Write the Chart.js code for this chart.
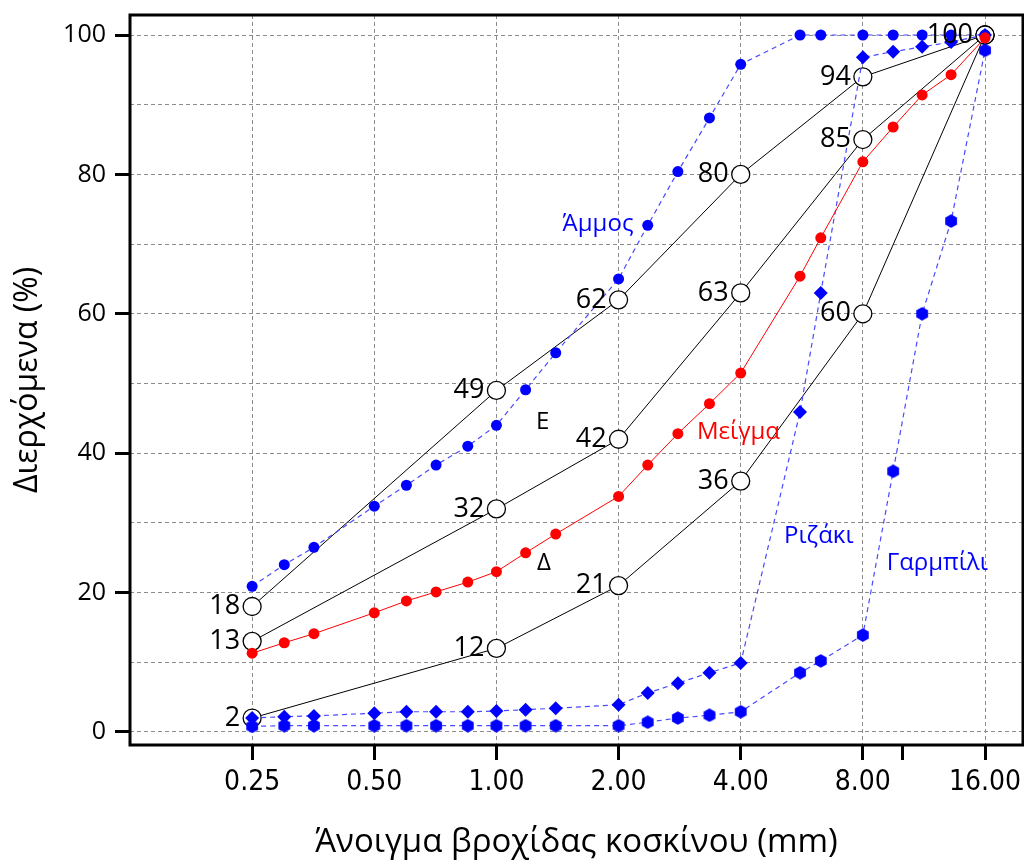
<!DOCTYPE html>
<html>
<head>
<meta charset="utf-8">
<script src="https://cdn.jsdelivr.net/npm/chart.js@4.4.1/dist/chart.umd.min.js"></script>
<style>
  body { margin: 0; background: #fff; }
  canvas { display: block; }
</style>
</head>
<body>
<canvas id="gradChart" width="1024" height="865"></canvas>
<script>
// sieve openings (mm)
const sieveSizes = [0.25, 0.3, 0.355, 0.5, 0.6, 0.71, 0.85, 1, 1.18, 1.4, 2, 2.36, 2.8, 3.35, 4, 5.6, 6.3, 8, 9.5, 11.2, 13.2, 16];

// passing percentages per material
const mixPassing   = [11.3, 12.8, 14.1, 17.1, 18.8, 20.1, 21.5, 23.0, 25.7, 28.4, 33.8, 38.3, 42.8, 47.1, 51.5, 65.4, 70.9, 81.8, 86.8, 91.4, 94.3, 99.6];
const sandPassing  = [20.9, 24.0, 26.5, 32.4, 35.4, 38.3, 41.0, 44.0, 49.1, 54.4, 65.0, 72.7, 80.4, 88.1, 95.8, 100, 100, 100, 100, 100, 100, 100];
const rizakiPassing = [2.0, 2.2, 2.3, 2.7, 2.9, 2.9, 2.9, 3.0, 3.2, 3.4, 3.9, 5.6, 7.0, 8.5, 9.9, 45.9, 63.0, 96.8, 97.6, 98.3, 99.0, 100];
const garmpiliPassing = [0.8, 0.9, 0.9, 0.9, 0.9, 0.9, 0.9, 0.9, 0.9, 0.9, 0.9, 1.4, 2.0, 2.4, 2.9, 8.5, 10.2, 13.9, 37.4, 60.0, 73.3, 97.8];

// grading envelope curves
const envelopeSizes = [0.25, 1, 2, 4, 8, 16];
const curveUpper  = [18, 49, 62, 80, 94, 100];
const curveMiddle = [13, 32, 42, 63, 85, 100];
const curveLower  = [2, 12, 21, 36, 60, 100];

// axes
const xTicks = [0.25, 0.5, 1, 2, 4, 8, 10, 16];
const xTickLabels = ['0.25', '0.50', '1.00', '2.00', '4.00', '8.00', '', '16.00'];
const yTicks = [0, 10, 20, 30, 40, 50, 60, 70, 80, 90, 100];

// text notes on the plot (data coords)
const notes = [
    { text: 'Άμμος', x: 1.78, y: 72.9, color: '#0000ff' },
    { text: 'Μείγμα', x: 3.95, y: 43.0, color: '#ff0000' },
    { text: 'Ριζάκι', x: 6.23, y: 28.1, color: '#0000ff' },
    { text: 'Γαρμπίλι', x: 12.2, y: 24.2, color: '#0000ff' },
    { text: 'Ε', x: 1.30, y: 44.5, color: '#000' },
    { text: 'Δ', x: 1.31, y: 24.2, color: '#000' }
];

const pts = (xs, ys) => xs.map((x, i) => ({ x, y: ys[i] }));

// hexagon marker
const hexMarker = (() => {
    const c = document.createElement('canvas');
    c.width = 14; c.height = 14;
    const g = c.getContext('2d');
    g.fillStyle = '#0000ff';
    g.beginPath();
    for (let i = 0; i < 6; i++) {
        const a = -Math.PI / 2 + i * Math.PI / 3;
        const px = 7 + 6.8 * Math.cos(a), py = 7 + 6.8 * Math.sin(a);
        i ? g.lineTo(px, py) : g.moveTo(px, py);
    }
    g.closePath();
    g.fill();
    return c;
})();

const blueLine = {
    borderColor: '#4a4aff',
    borderWidth: 1.2,
    borderDash: [5, 4],
    backgroundColor: '#0000ff',
    pointBorderWidth: 0,
    fill: false
};

const blackCurve = {
    borderColor: '#000',
    borderWidth: 1,
    pointStyle: 'circle',
    pointRadius: 9,
    pointBorderWidth: 1.3,
    pointBorderColor: '#000',
    pointBackgroundColor: '#fff',
    fill: false,
    valueLabels: true
};

const frame = {
    id: 'frame',
    beforeDatasetsDraw(chart) {
        const { ctx, chartArea: a } = chart;
        ctx.save();
        ctx.strokeStyle = '#000';
        ctx.lineWidth = 3;
        ctx.strokeRect(a.left, a.top, a.right - a.left, a.bottom - a.top);
        ctx.restore();
    }
};

const texts = {
    id: 'texts',
    afterDatasetsDraw(chart) {
        const { ctx, scales: { x, y } } = chart;
        ctx.save();
        ctx.textBaseline = 'middle';
        // value labels next to envelope circles
        ctx.font = '27px "Open Sans"';
        ctx.fillStyle = '#000';
        ctx.textAlign = 'right';
        const seen = new Set();
        chart.data.datasets.forEach((ds, di) => {
            if (!ds.valueLabels) return;
            chart.getDatasetMeta(di).data.forEach((p, i) => {
                const v = ds.data[i];
                const key = v.x + ':' + v.y;
                if (seen.has(key)) return;
                seen.add(key);
                ctx.fillText(String(v.y), p.x - 12, p.y);
            });
        });
        // notes
        ctx.textAlign = 'center';
        ctx.font = '24px "Open Sans"';
        notes.forEach(n => {
            ctx.fillStyle = n.color;
            ctx.fillText(n.text, x.getPixelForValue(n.x), y.getPixelForValue(n.y));
        });
        ctx.restore();
    }
};

const ctx = document.getElementById('gradChart').getContext('2d');
new Chart(ctx, {
    type: 'line',
    data: {
        datasets: [
            {
                data: pts(sieveSizes, mixPassing),
                borderColor: '#ff0000',
                borderWidth: 1,
                backgroundColor: '#ff0000',
                pointRadius: 5.5,
                pointBorderWidth: 0,
                fill: false
            },
            Object.assign({ data: pts(sieveSizes, sandPassing), pointStyle: 'circle', pointRadius: 5.5 }, blueLine),
            Object.assign({ data: pts(sieveSizes, rizakiPassing), pointStyle: 'rectRot', pointRadius: 7 }, blueLine),
            Object.assign({ data: pts(sieveSizes, garmpiliPassing), pointStyle: hexMarker, pointRadius: 6 }, blueLine),
            Object.assign({ data: pts(envelopeSizes, curveUpper) }, blackCurve),
            Object.assign({ data: pts(envelopeSizes, curveMiddle) }, blackCurve),
            Object.assign({ data: pts(envelopeSizes, curveLower) }, blackCurve)
        ]
    },
    options: {
        responsive: false,
        animation: false,
        layout: { autoPadding: false, padding: { top: 15, right: 1, left: 0, bottom: 0 } },
        plugins: { legend: { display: false }, tooltip: { enabled: false } },
        elements: { line: { tension: 0 } },
        scales: {
            x: {
                type: 'logarithmic',
                min: 0.125,
                max: 19.85,
                afterBuildTicks: s => { s.ticks = xTicks.map(v => ({ value: v })); },
                afterFit: s => { s.height = 120; s.paddingLeft = 0; s.paddingRight = 0; },
                border: { display: false, dash: [4, 3] },
                grid: {
                    color: c => (c.tick && c.tick.value === 10) ? 'rgba(0,0,0,0)' : '#8c8c8c',
                    lineWidth: 1,
                    tickColor: '#000',
                    tickWidth: 3,
                    tickLength: 15,
                    tickBorderDash: []
                },
                ticks: {
                    autoSkip: false,
                    maxRotation: 0,
                    minRotation: 0,
                    padding: 6,
                    color: '#000',
                    font: { family: '"Liberation Sans Narrow", "DejaVu Sans Condensed", "Open Sans"', size: 28 },
                    callback: (v, i) => xTickLabels[i]
                },
                title: {
                    display: true,
                    text: 'Άνοιγμα βροχίδας κοσκίνου (mm)',
                    color: '#000',
                    font: { family: '"Open Sans"', size: 33 },
                    padding: { top: 0, bottom: 3 }
                }
            },
            y: {
                type: 'linear',
                min: -1.87,
                max: 102.87,
                afterBuildTicks: s => { s.ticks = yTicks.map(v => ({ value: v })); },
                afterFit: s => { s.width = 130; s.paddingTop = 0; s.paddingBottom = 0; },
                border: { display: false, dash: [4, 3] },
                grid: {
                    color: '#8c8c8c',
                    lineWidth: 1,
                    tickColor: c => (c.tick && c.tick.value % 20 === 0) ? '#000' : 'rgba(0,0,0,0)',
                    tickWidth: 3,
                    tickLength: 15,
                    tickBorderDash: []
                },
                ticks: {
                    padding: 9,
                    color: '#000',
                    font: { family: '"Open Sans"', size: 25 },
                    callback: v => (v % 20 === 0 ? String(v) : '')
                },
                title: {
                    display: true,
                    text: 'Διερχόμενα (%)',
                    color: '#000',
                    font: { family: '"Open Sans"', size: 32 },
                    padding: { top: 9, bottom: 0 }
                }
            }
        }
    },
    plugins: [frame, texts]
});
</script>
</body>
</html>
